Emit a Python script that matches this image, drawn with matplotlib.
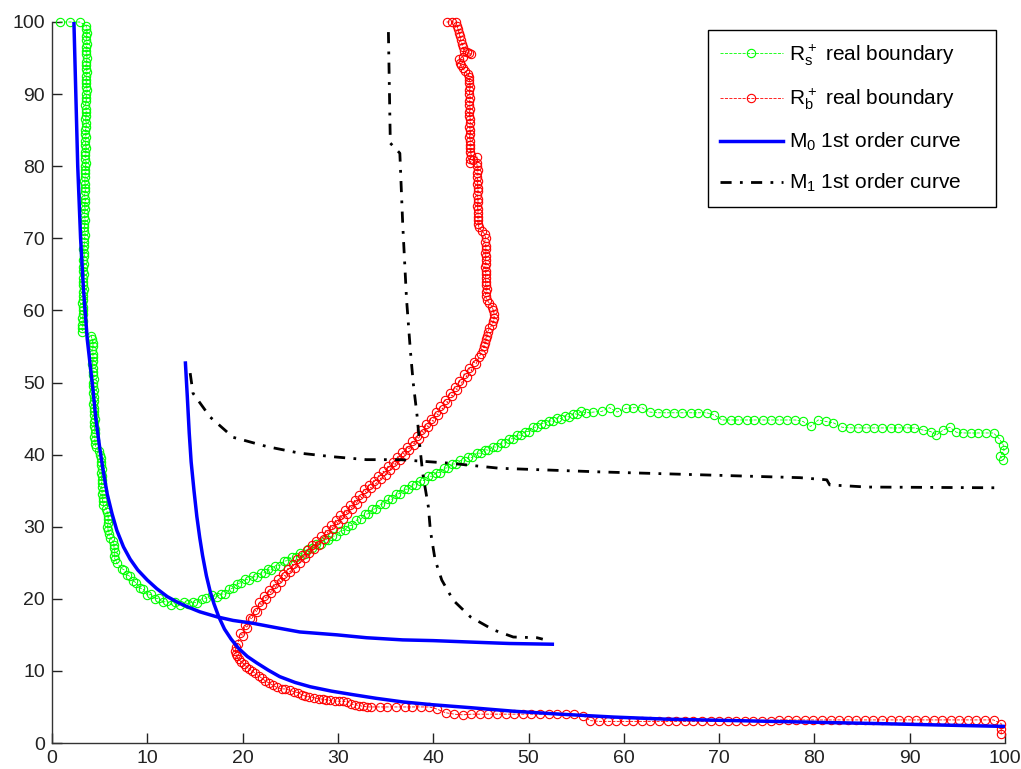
import matplotlib
matplotlib.use("Agg")
import matplotlib.pyplot as plt

# -----------------------------
# Data
# -----------------------------
# R_s+ real boundary (green circles)
rs_x = [0.8, 1.9, 2.9,
        # column at x ~ 3.5
        3.6, 3.6, 3.7, 3.6, 3.6, 3.7, 3.6, 3.6, 3.6, 3.7,
        3.6, 3.6, 3.6, 3.7, 3.6, 3.6, 3.6, 3.6, 3.7, 3.6,
        3.6, 3.6, 3.5, 3.6, 3.6, 3.6, 3.5, 3.6, 3.6, 3.5,
        3.5, 3.6, 3.5, 3.5, 3.6, 3.5, 3.5, 3.5, 3.6, 3.5,
        3.5, 3.5, 3.5, 3.4, 3.5, 3.5, 3.5, 3.4, 3.5, 3.5,
        3.4, 3.5, 3.4, 3.4, 3.5, 3.4, 3.4, 3.4, 3.5, 3.4,
        3.4, 3.4, 3.3, 3.4, 3.4, 3.3, 3.4, 3.3, 3.3, 3.4,
        3.3, 3.3, 3.3, 3.4, 3.3, 3.3, 3.3, 3.2, 3.3, 3.3,
        3.3, 3.2, 3.3, 3.2, 3.2, 3.2,
        # column at x ~ 4.3
        4.1, 4.2, 4.3, 4.3, 4.2, 4.3, 4.3, 4.3, 4.2, 4.3,
        4.3, 4.3, 4.4, 4.3, 4.3, 4.4, 4.3, 4.4, 4.4, 4.3,
        4.4, 4.4, 4.4, 4.5, 4.4, 4.4, 4.5, 4.5, 4.4, 4.5,
        4.5, 4.6,
        # columns at x ~ 5.2, 5.9, 6.6
        4.9, 5.0, 5.1, 5.1, 5.1, 5.2, 5.1, 5.2, 5.2, 5.2,
        5.2, 5.3, 5.2, 5.3, 5.3, 5.4,
        5.7, 5.8, 5.9, 5.9, 5.9, 5.8, 5.9, 6.0, 6.1,
        6.4, 6.5, 6.5, 6.6, 6.5, 6.6, 6.8,
        # bottom and rising branch
        7.3, 7.6, 7.9, 8.2, 8.5, 8.85, 9.2, 9.6, 10.0, 10.4,
        10.8, 11.2, 11.6, 12.05, 12.5, 12.95, 13.4, 13.85, 14.3, 14.75,
        15.2, 15.7, 16.2, 16.75, 17.3, 17.75, 18.2, 18.6, 19.0, 19.4,
        19.8, 20.25, 20.7, 21.1, 21.5, 21.9, 22.3, 22.65, 23.0, 23.45,
        23.9, 24.3, 24.7, 25.15, 25.6, 26.05, 26.5, 26.9, 27.3, 27.75,
        28.2, 28.6, 29.0, 29.4, 29.8, 30.25, 30.7, 31.1, 31.5, 31.95,
        32.4, 32.8, 33.2, 33.6, 34.0, 34.45, 34.9, 35.3, 35.7, 36.1,
        36.5, 36.95, 37.4, 37.8, 38.2, 38.6, 39.0, 39.45, 39.9, 40.3,
        40.7, 41.15, 41.6, 42.0, 42.4, 42.85, 43.3, 43.7, 44.1, 44.55,
        45.0, 45.4, 45.8, 46.25, 46.7, 47.1, 47.5, 47.95, 48.4, 48.8,
        49.2, 49.6, 50.0, 50.45, 50.9, 51.3, 51.7, 52.15, 52.6, 53.0,
        53.4, 53.85, 54.3, 54.7, 55.1, 55.55, 56.0,
        # plateau
        56.8, 57.7, 58.5, 59.3, 60.2, 61.0, 61.9, 62.7, 63.6, 64.4,
        65.3, 66.1, 67.0, 67.8, 68.7, 69.5, 70.3, 71.2, 72.0, 72.9,
        73.7, 74.6, 75.4, 76.3, 77.1, 78.0, 78.8, 79.6, 80.4, 81.2,
        82.0, 82.9, 83.7, 84.6, 85.4, 86.3, 87.1, 88.0, 88.8, 89.7,
        90.5, 91.4, 92.2, 92.8, 93.5, 94.2, 94.9, 95.6, 96.4, 97.2,
        98.0, 98.8, 99.4, 99.8, 99.9, 99.5, 99.8]
rs_y = [100, 100, 100,
        99.5, 99, 98.5, 98, 97.5, 97, 96.5, 96, 95.5, 95,
        94.5, 94, 93.5, 93, 92.5, 92, 91.5, 91, 90.5, 90,
        89.5, 89, 88.5, 88, 87.5, 87, 86.5, 86, 85.5, 85,
        84.5, 84, 83.5, 83, 82.5, 82, 81.5, 81, 80.5, 80,
        79.5, 79, 78.5, 78, 77.5, 77, 76.5, 76, 75.5, 75,
        74.5, 74, 73.5, 73, 72.5, 72, 71.5, 71, 70.5, 70,
        69.5, 69, 68.5, 68, 67.5, 67, 66.5, 66, 65.5, 65,
        64.5, 64, 63.5, 63, 62.5, 62, 61.5, 61, 60.5, 60,
        59.5, 59, 58.5, 58, 57.5, 57,
        56.5, 56, 55.5, 55, 54.5, 54, 53.5, 53, 52.5, 52,
        51.5, 51, 50.5, 50, 49.5, 49, 48.5, 48, 47.5, 47,
        46.5, 46, 45.5, 45, 44.5, 44, 43.5, 43, 42.5, 42,
        41.5, 41,
        40.5, 40, 39.5, 39, 38.5, 38, 37.5, 37, 36.5, 36,
        35.5, 35, 34.5, 34, 33.5, 33,
        32.5, 32, 31.5, 31, 30.5, 30, 29.5, 29, 28.5,
        28, 27.5, 27, 26.5, 26, 25.5, 25,
        24.2, 24.0, 23.3, 23.1, 22.5, 22.2, 21.5, 21.3, 20.5, 20.6,
        20.0, 20.1, 19.5, 19.7, 19.2, 19.5, 19.1, 19.5, 19.3, 19.6,
        19.4, 20.0, 20.1, 20.5, 20.3, 20.7, 20.6, 21.3, 21.5, 22.1,
        22.2, 22.7, 22.6, 23.1, 23.0, 23.6, 23.6, 24.1, 24.0, 24.6,
        24.6, 25.2, 25.3, 25.8, 25.8, 26.3, 26.2, 26.9, 27.0, 27.6,
        27.6, 28.2, 28.2, 28.7, 28.7, 29.4, 29.5, 30.1, 30.2, 30.9,
        31.0, 31.7, 31.8, 32.4, 32.5, 33.1, 33.2, 33.8, 33.8, 34.5,
        34.6, 35.2, 35.2, 35.8, 35.8, 36.4, 36.4, 37.0, 37.0, 37.5,
        37.5, 38.1, 38.2, 38.7, 38.7, 39.2, 39.1, 39.6, 39.6, 40.2,
        40.2, 40.7, 40.6, 41.1, 41.0, 41.6, 41.6, 42.2, 42.2, 42.7,
        42.7, 43.2, 43.2, 43.8, 43.8, 44.3, 44.3, 44.7, 44.6, 45.1,
        45.0, 45.4, 45.2, 45.7, 45.6, 46.0, 45.8,
        45.9, 46.0, 46.5, 45.9, 46.4, 46.5, 46.5, 45.9, 45.8, 45.8,
        45.8, 45.8, 45.8, 45.8, 45.8, 45.5, 44.8, 44.8, 44.8, 44.8,
        44.8, 44.8, 44.8, 44.8, 44.8, 44.8, 44.6, 43.9, 44.8, 44.6,
        44.4, 43.8, 43.7, 43.7, 43.7, 43.7, 43.7, 43.7, 43.7, 43.7,
        43.7, 43.4, 43.2, 42.7, 43.4, 43.8, 43.1, 43.0, 43.0, 43.0,
        43.0, 43.0, 42.2, 41.4, 40.6, 39.8, 39.3]

# R_b+ real boundary (red circles)
rb_x = [41.4, 42.0, 42.4, 42.5, 42.6, 42.7, 42.8, 42.9, 43.0, 43.1, 43.2,
        43.5, 43.8, 44.0, 43.1, 42.7, 42.8, 42.9, 43.1, 43.3, 43.6, 43.8,
        # column at x ~ 43.8
        43.8, 43.8, 43.9, 43.8, 43.8, 43.9, 43.8, 43.8, 43.9, 43.8,
        43.8, 43.9, 43.9, 43.8, 43.9, 43.9, 43.8, 43.9, 43.9, 43.9,
        43.9, 44.0, 43.9, 43.9, 44.2,
        # column at x ~ 44.6
        44.6, 44.6, 44.6, 44.7, 44.6, 44.6, 44.7, 44.6, 44.7, 44.7,
        44.6, 44.7, 44.7, 44.6, 44.7, 44.7, 44.7, 44.7, 44.7, 44.8,
        45.1, 45.4,
        # column at x ~ 45.5
        45.5, 45.4, 45.5, 45.5, 45.4, 45.5, 45.5, 45.5, 45.4, 45.5,
        45.5, 45.5, 45.5, 45.5, 45.6, 45.5, 45.5, 45.6,
        # bulge
        45.9, 46.2, 46.3, 46.4, 46.4, 46.3, 46.2, 45.9, 45.7, 45.6,
        45.5, 45.4, 45.3, 45.2, 45.0, 44.8,
        # falling diagonal
        44.5, 44.25, 44.0, 43.75, 43.5, 43.25, 43.0, 42.75, 42.5, 42.25,
        42.0, 41.75, 41.5, 41.25, 41.0, 40.75, 40.5, 40.25, 40.0, 39.75,
        39.5, 39.25, 39.0, 38.75, 38.5, 38.25, 38.0, 37.75, 37.5, 37.25,
        37.0, 36.75, 36.5, 36.25, 36.0, 35.75, 35.5, 35.25, 35.0, 34.75,
        34.5, 34.25, 34.0, 33.75, 33.5, 33.25, 33.0, 32.75, 32.5, 32.25,
        32.0, 31.75, 31.5, 31.25, 31.0, 30.75, 30.5, 30.25, 30.0, 29.75,
        29.5, 29.25, 29.0, 28.75, 28.5, 28.25, 28.0, 27.75, 27.5, 27.25,
        27.0, 26.75, 26.5, 26.25, 26.0, 25.75, 25.5, 25.25, 25.0, 24.75,
        24.5, 24.25, 24.0, 23.75, 23.5, 23.25, 23.0, 22.75, 22.5, 22.25,
        22.0, 21.75, 21.5, 21.25, 21.0, 20.75, 20.5, 20.25, 20.0, 19.75,
        19.5, 19.3, 19.2,
        # lower bend
        19.3, 19.4, 19.6, 19.8, 20.1, 20.4, 20.7, 21.0, 21.3, 21.7,
        22.0, 22.4, 22.8, 23.2, 23.6, 24.1, 24.5, 25.0, 25.4, 25.8,
        26.2, 26.6, 27.0, 27.5, 28.0, 28.4, 28.8, 29.2, 29.7, 30.1,
        30.5, 31.0, 31.4, 31.8, 32.2, 32.6, 33.1, 33.5,
        # bottom tail
        34.4, 35.2, 36.1, 37.0, 37.8, 38.7, 39.6, 40.4, 41.3, 42.2, 43.1,
        44.0, 44.9, 45.8, 46.7, 47.6, 48.5, 49.4, 50.3, 51.2, 52.1, 53.0,
        53.9, 54.8, 55.7, 56.5, 57.4, 58.3, 59.2, 60.1, 61.0, 61.9, 62.8,
        63.7, 64.6, 65.5, 66.4, 67.3, 68.2, 69.1, 70.0, 70.9, 71.8, 72.7,
        73.6, 74.5, 75.4, 76.3, 77.2, 78.1, 79.0, 79.9, 80.8, 81.7, 82.6,
        83.5, 84.4, 85.3, 86.2, 87.1, 88.0, 88.9, 89.8, 90.7, 91.6, 92.5,
        93.4, 94.3, 95.2, 96.1, 97.0, 97.9, 98.8, 99.6, 99.6, 99.6]
rb_y = [100, 100, 100, 99.5, 99, 98.5, 98, 97.5, 97, 96.5, 96,
        95.8, 95.7, 95.5, 95.2, 94.8, 94.3, 94.0, 93.6, 93.2, 92.8, 92.4,
        92, 91.5, 91, 90.5, 90, 89.5, 89, 88.5, 88, 87.5,
        87, 86.5, 86, 85.5, 85, 84.5, 84, 83.5, 83, 82.5,
        82, 81.5, 81, 80.5, 80.8,
        81.3, 80.5, 80, 79.5, 79, 78.5, 78, 77.5, 77, 76.5,
        76, 75.5, 75, 74.5, 74, 73.5, 73, 72.5, 72, 71.5,
        71.0, 70.6,
        70, 69.5, 69, 68.5, 68, 67.5, 67, 66.5, 66, 65.5,
        65, 64.5, 64, 63.5, 63, 62.5, 62, 61.5,
        61.0, 60.5, 60.0, 59.5, 59.0, 58.5, 58.0, 57.5, 57.0, 56.5,
        56.0, 55.5, 55.0, 54.5, 54.0, 53.5,
        52.6, 52.9, 51.6, 52.0, 50.8, 51.2, 49.9, 50.2, 49.0, 49.4,
        48.1, 48.5, 47.2, 47.6, 46.3, 46.7, 45.5, 45.9, 44.6, 45.0,
        43.8, 44.2, 43.0, 43.4, 42.2, 42.6, 41.4, 41.9, 40.7, 41.1,
        39.9, 40.4, 39.2, 39.7, 38.5, 39.0, 37.9, 38.4, 37.2, 37.7,
        36.6, 37.1, 35.9, 36.4, 35.3, 35.8, 34.7, 35.2, 34.0, 34.4,
        33.2, 33.7, 32.5, 33.0, 31.8, 32.3, 31.1, 31.6, 30.4, 30.9,
        29.7, 30.2, 29.0, 29.5, 28.3, 28.7, 27.5, 28.0, 26.9, 27.4,
        26.3, 26.8, 25.6, 26.1, 25.0, 25.5, 24.3, 24.8, 23.7, 24.2,
        23.1, 23.5, 22.3, 22.7, 21.5, 22.0, 20.8, 21.2, 20.0, 20.4,
        19.1, 19.5, 18.2, 18.5, 17.2, 17.4, 16.0, 16.3, 14.9, 15.2,
        13.8, 13.3, 12.8,
        12.4, 12.0, 11.6, 11.3, 11.0, 10.6, 10.3, 10.0, 9.7, 9.3,
        9.0, 8.6, 8.3, 8.0, 7.7, 7.5, 7.5, 7.3, 7.1, 7.0,
        6.7, 6.5, 6.4, 6.3, 6.1, 6.1, 6.0, 5.9, 5.8, 5.8,
        5.8, 5.7, 5.4, 5.3, 5.2, 5.1, 5.0, 5.0,
        5.0, 5.0, 5.0, 5.0, 5.0, 5.0, 5.0, 4.7, 4.2, 4.0, 3.9,
        4.0, 4.0, 4.0, 4.0, 4.0, 4.0, 4.0, 4.0, 4.0, 4.0, 4.0,
        4.0, 4.0, 3.8, 3.1, 3.0, 3.0, 3.0, 3.0, 3.0, 3.0, 3.0,
        3.0, 3.0, 3.0, 3.0, 3.0, 3.0, 3.0, 3.1, 3.1, 3.1, 3.1,
        3.1, 3.1, 3.1, 3.2, 3.2, 3.2, 3.2, 3.2, 3.2, 3.2, 3.2,
        3.2, 3.2, 3.2, 3.2, 3.2, 3.2, 3.2, 3.2, 3.2, 3.2, 3.2,
        3.2, 3.2, 3.2, 3.2, 3.2, 3.2, 3.2, 2.7, 1.9, 1.2]

# M0 1st order curve (blue), two branches
m0a_x = [2.3, 2.5, 2.7, 3.0, 3.3, 3.7, 4.3, 4.6, 5.0, 5.4, 5.8, 6.3, 6.8,
         7.5, 8.2, 9.0, 10.0, 11.0, 12.1, 13.2, 14.2, 15.5, 17.3, 19.0,
         21.1, 23.5, 26.0, 29.9, 33.0, 36.8, 40.0, 43.9, 48.0, 52.5]
m0a_y = [100, 90, 80, 70, 63, 56, 49, 45, 41, 37.5, 34.5, 31.8, 29.5,
         27.2, 25.5, 24.0, 22.6, 21.4, 20.3, 19.5, 18.9, 18.2, 17.5, 17.0,
         16.6, 16.0, 15.4, 15.0, 14.6, 14.3, 14.2, 14.0, 13.8, 13.7]
m0b_x = [14.0, 14.2, 14.4, 14.6, 14.9, 15.2, 15.5, 15.8, 16.2, 16.6, 17.0,
         17.5, 18.1, 18.8, 19.6, 20.5, 21.5, 22.7, 23.9, 25.5, 27.1, 29.3,
         31.6, 34.0, 36.8, 40.0, 43.9, 48.5, 53.3, 58.9, 64.6, 70.0, 75.5,
         81.0, 86.5, 93.0, 100]
m0b_y = [52.7, 48.0, 43.0, 39.0, 35.0, 31.4, 28.5, 26.0, 23.2, 21.0, 19.3,
         17.5, 15.8, 14.4, 13.1, 12.0, 11.1, 10.1, 9.2, 8.4, 7.8, 7.2,
         6.7, 6.2, 5.7, 5.3, 4.9, 4.4, 4.0, 3.6, 3.3, 3.15, 3.0,
         2.85, 2.7, 2.5, 2.3]

# M1 1st order curve (black dash-dot), two branches
m1a_x = [35.3, 35.5, 36.5, 36.8, 37.2, 37.6, 37.9, 38.3, 38.6, 38.9, 39.5,
         39.7, 40.2, 40.9, 42.1, 43.9, 46.3, 48.4, 50.9, 51.5]
m1a_y = [98.6, 83.2, 81.8, 72.0, 61.6, 54.5, 50.0, 45.5, 41.1, 37.4, 32.7,
         29.5, 25.4, 22.6, 19.8, 17.5, 15.7, 14.7, 14.6, 14.4]
m1b_x = [14.5, 14.8, 16.6, 19.0, 22.6, 26.0, 29.5, 33.0, 36.5, 41.8, 47.0,
         57.5, 68.0, 78.5, 81.3, 81.6, 85.5, 98.9]
m1b_y = [51.3, 48.5, 45.2, 42.4, 41.1, 40.2, 39.7, 39.3, 39.3, 38.8, 38.1,
         37.6, 37.2, 36.8, 36.5, 35.8, 35.5, 35.4]

labels = [r"$R_s^+$ real boundary", r"$R_b^+$ real boundary",
          r"$M_0$ 1st order curve", r"$M_1$ 1st order curve"]

# -----------------------------
# Style
# -----------------------------
plt.rcParams["font.family"] = ["Liberation Sans", "DejaVu Sans"]
plt.rcParams["mathtext.fontset"] = "custom"
plt.rcParams["mathtext.rm"] = "Liberation Sans"
plt.rcParams["mathtext.it"] = "Liberation Sans"
plt.rcParams["mathtext.bf"] = "Liberation Sans:bold"

fig = plt.figure(figsize=(10.21, 7.69), dpi=100)
ax = fig.add_axes([52 / 1021, 26 / 769, 953 / 1021, 721 / 769])

# -----------------------------
# Plot
# -----------------------------
ax.plot(rs_x, rs_y, "--o", color=(0, 1, 0), mfc="none", ms=6, mew=0.8,
        lw=0.6, label=labels[0], clip_on=False)
ax.plot(rb_x, rb_y, "--o", color=(1, 0, 0), mfc="none", ms=6, mew=0.8,
        lw=0.6, label=labels[1], clip_on=False)
ax.plot(m0a_x, m0a_y, "-", color=(0, 0, 1), lw=2.5, label=labels[2])
ax.plot(m0b_x, m0b_y, "-", color=(0, 0, 1), lw=2.5)
ax.plot(m1a_x, m1a_y, color="black", lw=2, dashes=(4, 3, 1, 3), label=labels[3])
ax.plot(m1b_x, m1b_y, color="black", lw=2, dashes=(4, 3, 1, 3))

ax.set_xlim(0, 100)
ax.set_ylim(0, 100)
ax.set_xticks(range(0, 101, 10))
ax.set_yticks(range(0, 101, 10))
ax.tick_params(direction="in", length=7, width=1, labelsize=14,
               colors="#222222", pad=5)
ax.spines["top"].set_visible(False)
ax.spines["right"].set_visible(False)
for s in ["left", "bottom"]:
    ax.spines[s].set_color("#333333")
    ax.spines[s].set_linewidth(1)

# legend box spans px 708..997 horizontally, top at px 30
leg = ax.legend(loc="upper left", bbox_to_anchor=(0.688, 0.742, 0.303, 0.247),
                mode="expand", fontsize=15, fancybox=False, edgecolor="black",
                framealpha=1, handlelength=3.0, handletextpad=0.3,
                labelspacing=0.9, borderpad=0.6, borderaxespad=0)
leg.get_frame().set_linewidth(1)
leg.set_zorder(5)

fig.savefig("out.png", dpi=100)
